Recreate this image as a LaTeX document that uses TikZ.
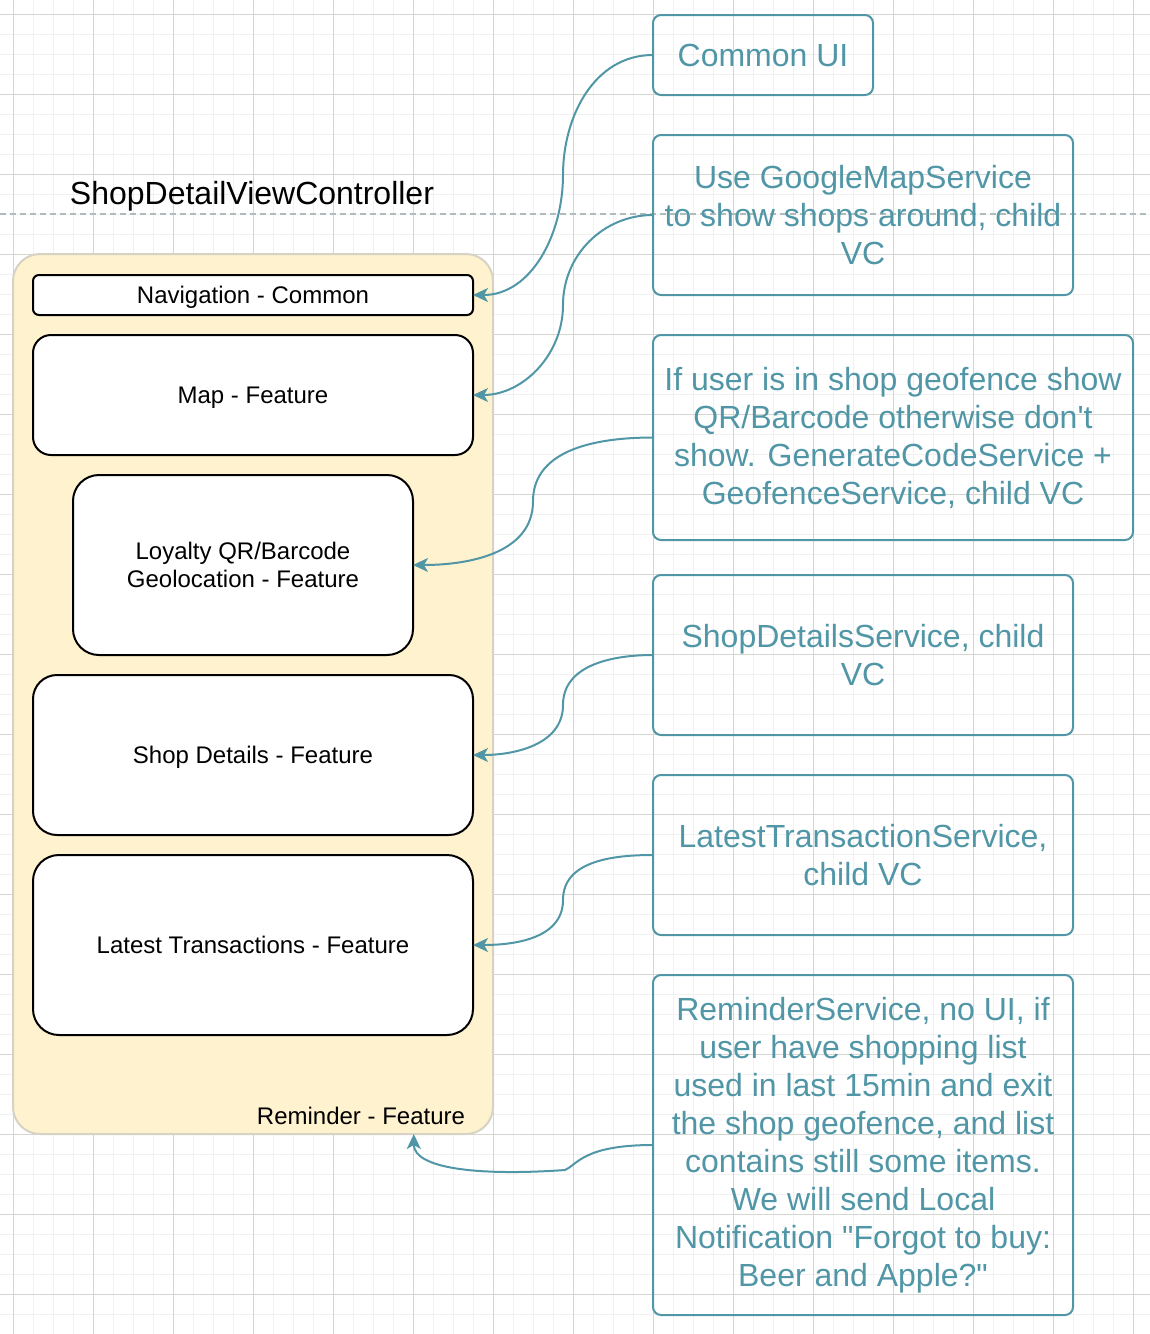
\documentclass[tikz,border=0pt]{standalone}
\usepackage{fontspec}
\defaultfontfeatures[\rmfamily]{}
\setmainfont{Liberation Sans}
\usetikzlibrary{positioning}
\usetikzlibrary{calc,arrows.meta}

\definecolor{gridlo}{RGB}{241,241,241}
\definecolor{gridhi}{RGB}{214,214,208}
\definecolor{ctrfill}{RGB}{255,242,206}
\definecolor{ctrline}{RGB}{214,210,196}
\definecolor{svcteal}{RGB}{80,150,166}
\definecolor{dashline}{RGB}{175,188,190}

\begin{document}
\begin{tikzpicture}[
    x=1pt,y=-1pt,
    every node/.style={
        inner sep=0pt,
        outer sep=0pt,
    },
    gridminor/.style={draw=gridlo,line width=1pt},
    gridmajor/.style={draw=gridhi,line width=1pt},
    container/.style={
        draw=ctrline,fill=ctrfill,
        line width=2pt,
        rounded corners=27pt,
        minimum width=480pt,
        minimum height=880pt,
    },
    feature/.style n args={3}{
        draw=black,fill=white,
        line width=2pt,
        align=center,
        text depth=0pt,
        font=\fontsize{24}{28}\selectfont,
        minimum width=#1pt,
        minimum height=#2pt,
        rounded corners=#3pt,
    },
    service/.style n args={2}{
        draw=svcteal,
        text=svcteal,
        line width=2pt,
        align=center,
        font=\fontsize{32}{38}\selectfont,
        minimum width=#1pt,
        minimum height=#2pt,
        rounded corners=8pt,
    },
    conn/.style={
        draw=svcteal,line width=2pt,
        -{Stealth[length=15pt,width=14pt,inset=4pt]},
    },
]
    % ~~~ curved link: service box -> feature box ~~~~~~~~~~~~~~~~~~
    \newcommand\link[2]{\draw[conn] (#1.west) to[out=180,in=90] ($(#1.west)!.5!(#2.east)$) to[out=-90,in=0] (#2.east)}

    \useasboundingbox (0,0) rectangle (1150,1334);
    \foreach \x in {-7,13,...,1153}{
        \draw[gridminor] (\x,0) -- (\x,1334);
    }
    \foreach \y in {-6,14,...,1334}{
        \draw[gridminor] (0,\y) -- (1150,\y);
    }
    \foreach \x in {13,93,...,1133}{
        \draw[gridmajor] (\x,0) -- (\x,1334);
    }
    \foreach \y in {14,94,...,1294}{
        \draw[gridmajor] (0,\y) -- (1150,\y);
    }
    \draw[dashline,line width=1.5pt,dash pattern=on 6pt off 4pt] (0,214) -- (1150,214);

    % ~~~ view controller ~~~~~~~~~~~~~~~~~~~~~~~~~~~~~~~~~~~~~~~~~~
    \node[anchor=base,font=\fontsize{32}{38}\selectfont] (title) at (252,204) {ShopDetailViewController};
    \node[container] (ctr) at (253,694) {};
    \node[anchor=base east,font=\fontsize{24}{28}\selectfont] (remlbl) at ([shift={(-28,-10)}]ctr.south east) {Reminder - Feature};

    \node[feature={440}{40}{6}]   (nav)     at (253,295) {Navigation - Common};
    \node[feature={440}{120}{18}] (map)     at (253,395) {Map - Feature};
    \node[feature={340}{180}{26}] (loyal)   at (243,565) {Loyalty QR/Barcode\\Geolocation - Feature};
    \node[feature={440}{160}{24}] (shopdet) at (253,755) {Shop Details - Feature};
    \node[feature={440}{180}{26}] (latest)  at (253,945) {Latest Transactions - Feature};

    % ~~~ services ~~~~~~~~~~~~~~~~~~~~~~~~~~~~~~~~~~~~~~~~~~~~~~~~~
    \node[service={220}{80}]  (cui)    at (763,55)    {Common UI};
    \node[service={420}{160}] (gmap)   at (863,215)   {Use GoogleMapService\\to show shops around, child\\VC};
    \node[service={480}{205}] (geo)    at (893,437.5) {If user is in shop geofence show\\QR/Barcode otherwise don't\\show. GenerateCodeService +\\GeofenceService, child VC};
    \node[service={420}{160}] (sds)    at (863,655)   {ShopDetailsService, child\\VC};
    \node[service={420}{160}] (lts)    at (863,855)   {LatestTransactionService,\\child VC};
    \node[service={420}{340}] (remsvc) at (863,1145)  {ReminderService, no UI, if\\user have shopping list\\used in last 15min and exit\\the shop geofence, and list\\contains still some items.\\We will send Local\\Notification "Forgot to buy:\\Beer and Apple?"};

    % ~~~ links ~~~~~~~~~~~~~~~~~~~~~~~~~~~~~~~~~~~~~~~~~~~~~~~~~~~~
    \foreach \a/\b in {cui/nav,gmap/map,geo/loyal,sds/shopdet,lts/latest}{
        \link{\a}{\b};
    }
    \coordinate (rin) at ($(ctr.south west)!.835!(ctr.south east)$);
    \coordinate (remjog) at (565,1170);
    \draw[conn] (remsvc.west) .. controls +(-70,0) and +(12,-5) .. (remjog) .. controls +(-85,6) and +(0,35) .. (rin);
\end{tikzpicture}
\end{document}
